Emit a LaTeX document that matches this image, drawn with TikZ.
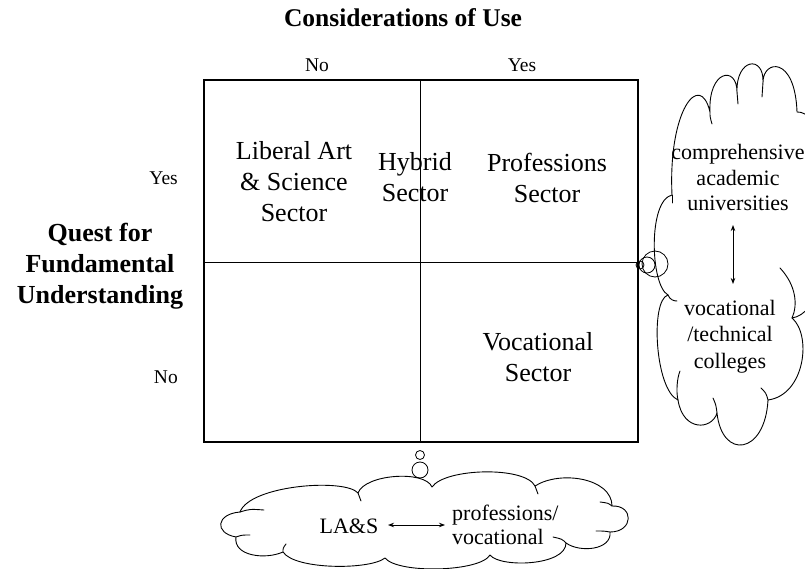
\documentclass[tikz,border=0pt]{standalone}
\usepackage{fontspec}
\setmainfont{Liberation Serif}
\usetikzlibrary{arrows.meta}
\begin{document}
\begin{tikzpicture}[x=1pt,y=-1pt,
  lbl/.style={font=\fontsize{19.5}{22}\selectfont, inner sep=0pt},
  sectortxt/.style={font=\fontsize{26}{31}\selectfont, align=center, inner sep=0pt},
  axistitle/.style={font=\bfseries\fontsize{26}{31}\selectfont, align=center, inner sep=0pt},
  cloudtxt/.style={font=\fontsize{22}{26}\selectfont, align=center, inner sep=0pt},
  bubble/.style={draw, circle, line width=0.8pt, inner sep=0pt},
  darr/.style={{Stealth[length=6pt,width=4.5pt]}-{Stealth[length=6pt,width=4.5pt]}, line width=0.9pt},
  cloudline/.style={draw, line width=0.9pt, line join=round, line cap=round},
  frame/.style={draw, line width=2.6pt, inner sep=0pt},
  divider/.style={line width=0.9pt}
]
\clip (0,0) rectangle (805,569);
% ---------- right cloud ----------
\path[cloudline, fill=white] (672,195)
  .. controls (668,110) and (700,70) .. (710,112)
  .. controls (708,70) and (737,65) .. (737,92)
  .. controls (736,58) and (764,55) .. (763,82)
  .. controls (763,60) and (795,55) .. (797,112)
  .. controls (840,110) and (845,310) .. (792,318)
  .. controls (812,335) and (805,395) .. (768,400)
  .. controls (765,455) and (722,460) .. (717,413)
  .. controls (712,430) and (683,432) .. (678,400)
  .. controls (655,390) and (650,300) .. (668,295)
  .. controls (650,285) and (648,200) .. (672,195) -- cycle;
% inner arcs of right cloud
\draw[cloudline] (710,112) .. controls (710,117) .. (712,124);
\draw[cloudline] (737,92) .. controls (737,98) .. (738,104);
\draw[cloudline] (763,82) .. controls (763,90) .. (762,97);
\draw[cloudline] (672,195) -- (672,203);
\draw[cloudline] (668,295) .. controls (670,300) and (674,301) .. (677,301);
\draw[cloudline] (717,413) .. controls (716,405) .. (713,398);
\draw[cloudline] (768,400) .. controls (766,393) .. (761,388);
\draw[cloudline] (780,268) .. controls (796,285) and (798,305) .. (792,318);
\draw[cloudline] (678,400) .. controls (676,392) and (677,378) .. (680,371);
% ---------- bottom cloud ----------
\path[cloudline, fill=white] (240,512)
  .. controls (250,485) and (345,478) .. (358,493)
  .. controls (365,474) and (425,470) .. (432,487)
  .. controls (445,468) and (525,466) .. (535,486)
  .. controls (560,470) and (612,478) .. (612,506)
  .. controls (634,505) and (634,532) .. (610,532)
  .. controls (612,550) and (580,553) .. (566,543)
  .. controls (566,566) and (500,568) .. (490,555)
  .. controls (480,572) and (398,574) .. (385,558)
  .. controls (370,570) and (295,570) .. (283,552)
  .. controls (265,560) and (233,556) .. (236,537)
  .. controls (214,533) and (216,514) .. (240,512) -- cycle;
% inner arcs of bottom cloud
\draw[cloudline] (240,512) .. controls (250,509) .. (264,510);
\draw[cloudline] (358,493) .. controls (359,497) .. (361,501);
\draw[cloudline] (535,486) .. controls (536,490) .. (538,494);
\draw[cloudline] (612,506) .. controls (608,503) .. (600,502);
\draw[cloudline] (610,532) .. controls (604,531) .. (596,531);
\draw[cloudline] (566,543) .. controls (562,539) .. (553,537);
\draw[cloudline] (283,552) .. controls (283,548) .. (286,544);
\draw[cloudline] (236,537) .. controls (242,535) .. (250,535);
% ---------- thought bubbles ----------
\node[bubble, minimum size=8pt] (rb1) at (640,265) {};
\node[bubble, minimum size=16pt] (rb2) at (647,265) {};
\node[bubble, minimum size=26pt] (rb3) at (655,264) {};
\node[bubble, minimum size=9pt] (bb1) at (420,455) {};
\node[bubble, minimum size=16pt] (bb2) at (420,470) {};
% ---------- frame ----------
\node[frame, minimum width=434pt, minimum height=362pt] (grid) at (421,261) {};
\coordinate (vt) at (420,80);
\coordinate (vb) at (420,442);
\coordinate (hl) at (204,262);
\coordinate (hr) at (638,262);
\draw[divider] (vt) -- (vb);
\draw[divider] (hl) -- (hr);
% ---------- axis titles ----------
\node[axistitle, font=\bfseries\fontsize{25.5}{30}\selectfont] (ctitle) at (403,18) {Considerations of Use};
\node[lbl] (cno) at (317,65) {No};
\node[lbl] (cyes) at (522,65) {Yes};
\node[axistitle] (qtitle) at (100,266) {Quest for\\Fundamental\\Understanding};
\node[lbl, anchor=east] (ryes) at (178,178) {Yes};
\node[lbl, anchor=east] (rno) at (178,377) {No};
% ---------- sectors ----------
\node[sectortxt] (las) at (294,181.5) {Liberal Art\\\& Science\\Sector};
\node[sectortxt] (hyb) at (415,177.5) {Hybrid\\Sector};
\node[sectortxt] (prof) at (547,178) {Professions\\Sector};
\node[sectortxt] (voc) at (538,357.5) {Vocational\\Sector};
% ---------- right cloud text ----------
\node[cloudtxt, font=\fontsize{22}{25.5}\selectfont] (univ) at (738,177.5) {comprehensive\\academic\\universities};
\node[cloudtxt, font=\fontsize{22}{26.5}\selectfont] (coll) at (730,336.5) {vocational\\/technical\\colleges};
\coordinate (ua) at (733,225);
\coordinate (ca) at (733,284);
\draw[darr] (ua) -- (ca);
% ---------- bottom cloud text ----------
\node[cloudtxt] (lasb) at (349,526) {LA\&S};
\node[cloudtxt, font=\fontsize{22}{24}\selectfont, align=left, anchor=west] (pv) at (452,525) {professions/\\vocational};
\coordinate (la) at (388,525);
\coordinate (pa) at (445,525);
\draw[darr] (la) -- (pa);
\end{tikzpicture}
\end{document}
